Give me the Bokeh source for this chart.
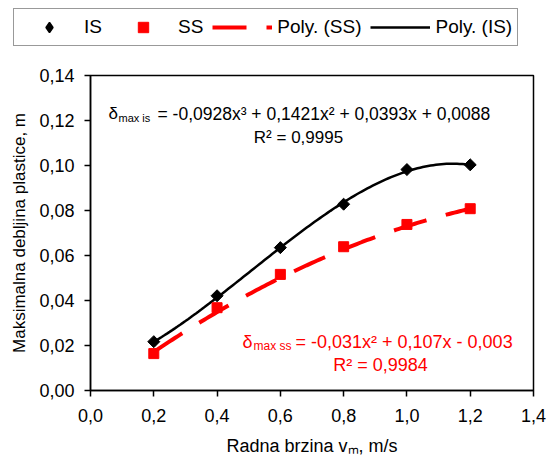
import numpy as np
from bokeh.plotting import figure
from bokeh.layouts import column
from bokeh.models import (Legend, LegendItem, Label, CustomJSTickFormatter,
                          FixedTicker, Range1d)
from bokeh.embed import file_html
from bokeh.resources import INLINE

# ---- data ----
speed = [0.2, 0.4, 0.6, 0.8, 1.0, 1.2]
is_vals = [0.0217, 0.0421, 0.0635, 0.0828, 0.0982, 0.1003]
ss_vals = [0.0164, 0.0368, 0.0516, 0.0639, 0.0738, 0.0808]
# trend line polynomial coefficients as printed on the chart
is_coef = [-0.0928, 0.1421, 0.0393, 0.0088]
ss_coef = [-0.031, 0.107, -0.003]
x_ticks = [0.0, 0.2, 0.4, 0.6, 0.8, 1.0, 1.2, 1.4]
y_ticks = [0.0, 0.02, 0.04, 0.06, 0.08, 0.10, 0.12, 0.14]
legend_labels = ["IS", "SS", "Poly. (SS)", "Poly. (IS)"]

FONT = "Liberation Sans"
X0, X1 = 0.0, 1.4
Y0, Y1 = 0.0, 0.14
W = 549
LEG_H = 47                # height of the legend strip
MAIN_H = 459 - LEG_H
FL, FR, FT, FB = 90, 533, 75, 390   # frame in page px

xt = np.linspace(min(speed), max(speed), 121)
is_fit = np.polyval(is_coef, xt)
ss_fit = np.polyval(ss_coef, xt)

STY_IS_PTS = dict(marker="square", angle=np.pi / 4, size=8.5,
                  fill_color="black", line_color="black")
STY_SS_PTS = dict(marker="square", size=10, fill_color="red", line_color="red")
STY_SS_LINE = dict(line_color="red", line_width=4, line_dash="34 20")
STY_IS_LINE = dict(line_color="black", line_width=2.5)

# ---------------- legend strip ----------------
# (same series drawn again, but with ranges that keep them out of view:
#  only their legend entries are shown)
lg = figure(width=W, height=LEG_H, output_backend="svg", toolbar_location=None,
            x_range=Range1d(X1 + 10, X1 + 11), y_range=Range1d(Y1 + 10, Y1 + 11),
            min_border_left=0, min_border_right=0, min_border_top=0,
            min_border_bottom=0, x_axis_type=None, y_axis_type=None)
if "frame_align" in lg.properties():
    lg.frame_align = False
lg.outline_line_color = None
lg.background_fill_color = "white"
lg.border_fill_color = "white"
lg.xgrid.visible = False
lg.ygrid.visible = False

l1 = lg.scatter(speed, is_vals, marker="diamond", fill_color="black",
                line_color="black", line_width=1.5)
l2 = lg.scatter(speed, ss_vals, **STY_SS_PTS)
l3 = lg.line(xt, ss_fit, **STY_SS_LINE)
l4 = lg.line(xt, is_fit, **STY_IS_LINE)
legend = Legend(items=[LegendItem(label=t, renderers=[r])
                       for t, r in zip(legend_labels, [l1, l2, l3, l4])],
                orientation="horizontal", location=(13, 1),
                border_line_color="#333333", border_line_width=1,
                background_fill_color="white", background_fill_alpha=1,
                padding=5, spacing=9, glyph_width=60, glyph_height=26,
                label_standoff=5, margin=0,
                label_text_font=FONT, label_text_font_size="19px",
                label_text_color="black")
lg.add_layout(legend, "center")

# ---------------- main chart ----------------
p = figure(width=W, height=MAIN_H, output_backend="svg", toolbar_location=None,
           x_range=Range1d(X0, X1), y_range=Range1d(Y0, Y1),
           min_border_left=FL, min_border_right=W - FR,
           min_border_top=FT - LEG_H, min_border_bottom=459 - FB)
if "frame_align" in p.properties():
    p.frame_align = False
p.background_fill_color = "white"
p.border_fill_color = "white"
p.outline_line_color = "black"
p.outline_line_width = 1.5
p.xgrid.visible = False
p.ygrid.visible = False

for ax in (p.xaxis[0], p.yaxis[0]):
    ax.axis_line_color = "black"
    ax.axis_line_width = 1.5
    ax.major_tick_line_color = "black"
    ax.major_tick_line_width = 1.5
    ax.major_tick_in = 0
    ax.major_tick_out = 6
    ax.minor_tick_line_color = None
    ax.major_label_text_font = FONT
    ax.major_label_text_font_size = "18px"
    ax.major_label_text_color = "black"
    ax.axis_label_text_font = FONT
    ax.axis_label_text_font_size = "18px"
    ax.axis_label_text_font_style = "normal"
    ax.axis_label_text_color = "black"

p.yaxis.axis_label_text_font_size = "17px"
p.xaxis.ticker = FixedTicker(ticks=x_ticks)
p.yaxis.ticker = FixedTicker(ticks=y_ticks)
p.xaxis.formatter = CustomJSTickFormatter(code="return tick.toFixed(1).replace('.', ',');")
p.yaxis.formatter = CustomJSTickFormatter(code="return tick.toFixed(2).replace('.', ',');")
p.xaxis.major_label_standoff = 12
p.yaxis.major_label_standoff = 10
p.yaxis.axis_label = "Maksimalna debljina plastice, m"
p.yaxis.axis_label_standoff = 7
p.xaxis.axis_label = "Radna brzina v\u2098, m/s"
p.xaxis.axis_label_standoff = 11

# trend lines (from the printed polynomials)
p.line(xt, ss_fit, **STY_SS_LINE)
p.line(xt, is_fit, **STY_IS_LINE)

# data points
p.scatter(speed, is_vals, **STY_IS_PTS)
p.scatter(speed, ss_vals, **STY_SS_PTS)


def dx(px):
    return X0 + (px - FL) / (FR - FL) * (X1 - X0)


def dy(py):
    return Y0 + (FB - py) / (FB - FT) * (Y1 - Y0)


def txt(s, px, py, size, color="black", align="left"):
    p.add_layout(Label(x=dx(px), y=dy(py), text=s, text_font=FONT,
                       text_font_size=size, text_color=color,
                       text_align=align, text_baseline="alphabetic"))


# equation for IS
txt("\u03b4", 108, 113, "17px")
txt("max is", 118, 117, "11px")
txt("= -0,0928x\u00b3 + 0,1421x\u00b2 + 0,0393x + 0,0088", 157, 113, "17.5px")
txt("R\u00b2 = 0,9995", 298, 137, "17px", align="center")

# equation for SS
txt("\u03b4", 242, 341, "18px", color="red")
txt("max ss", 253, 345, "12px", color="red")
txt("= -0,031x\u00b2 + 0,107x - 0,003", 295, 341, "18px", color="red")
txt("R\u00b2 = 0,9984", 380, 364, "18px", color="red", align="center")

open("out.html", "w").write(file_html(column(lg, p, spacing=0), INLINE))
